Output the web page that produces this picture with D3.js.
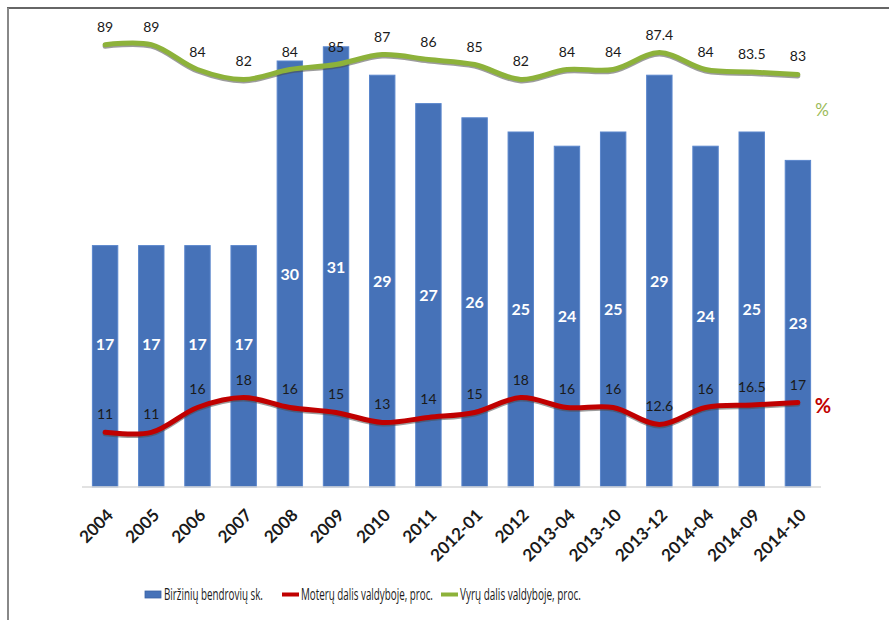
<!DOCTYPE html>
<html>
<head>
<meta charset="utf-8">
<script src="https://cdn.jsdelivr.net/npm/d3@7"></script>
<style>
  body { margin: 0; background: #fff; }
  svg { display: block; }
</style>
</head>
<body>
<div id="chart"></div>
<script>
// duomenys
const periods = ["2004", "2005", "2006", "2007", "2008", "2009", "2010", "2011",
  "2012-01", "2012", "2013-04", "2013-10", "2013-12", "2014-04", "2014-09", "2014-10"];
const companies = [17, 17, 17, 17, 30, 31, 29, 27, 26, 25, 24, 25, 29, 24, 25, 23];
const women = [11, 11, 16, 18, 16, 15, 13, 14, 15, 18, 16, 16, 12.6, 16, 16.5, 17];
const men = [89, 89, 84, 82, 84, 85, 87, 86, 85, 82, 84, 84, 87.4, 84, 83.5, 83];
const seriesNames = ["Biržinių bendrovių sk.", "Moterų dalis valdyboje, proc.", "Vyrų dalis valdyboje, proc."];

const width = 889, height = 620;
const baseY = 487;
const numFont = "Lato, 'Open Sans', sans-serif";

const svg = d3.select("#chart").append("svg")
  .attr("width", width).attr("height", height);

// rėmelis
svg.append("line").attr("x1", 7).attr("x2", width).attr("y1", 8).attr("y2", 8)
  .attr("stroke", "#333").attr("stroke-width", 1.5);
svg.append("line").attr("x1", 8).attr("x2", 8).attr("y1", 8).attr("y2", height)
  .attr("stroke", "#888").attr("stroke-width", 2);

const x = d3.scaleBand().domain(periods).range([82, 821])
  .paddingInner(0.45).paddingOuter(0.225);
const yBar = d3.scaleLinear().domain([0, 35]).range([baseY, -10]);
const yPct = d3.scaleLinear().domain([0, 100]).range([baseY, -10]);
const cx = d => x(d) + x.bandwidth() / 2;

// stulpeliai
svg.append("g").selectAll("rect").data(companies).join("rect")
  .attr("x", (d, i) => x(periods[i]))
  .attr("y", d => yBar(d))
  .attr("width", x.bandwidth())
  .attr("height", d => baseY - yBar(d))
  .attr("fill", "#4672b8")
  .attr("stroke", "#5a86cc").attr("stroke-width", 1);

// ašis
svg.append("line").attr("x1", 82).attr("x2", 821).attr("y1", baseY).attr("y2", baseY)
  .attr("stroke", "#d9d9d9").attr("stroke-width", 1.5);

svg.append("g").selectAll("text").data(periods).join("text")
  .attr("transform", d => `translate(${cx(d) + 5},${baseY + 25}) rotate(-45)`)
  .attr("text-anchor", "end")
  .attr("dy", "0.35em")
  .attr("font-family", numFont)
  .attr("font-weight", "bold")
  .attr("font-size", 17)
  .attr("fill", "#1a1a1a")
  .text(d => d);

// stulpelių reikšmės
svg.append("g").selectAll("text").data(companies).join("text")
  .attr("x", (d, i) => cx(periods[i]))
  .attr("y", d => Math.min((yBar(d) + baseY) / 2, baseY - 143))
  .attr("dy", "0.35em")
  .attr("text-anchor", "middle")
  .attr("font-family", numFont)
  .attr("font-weight", "bold")
  .attr("font-size", 16)
  .attr("fill", "#fff")
  .text(d => d);

// linijos
const line = d3.line()
  .x((d, i) => cx(periods[i]))
  .y(d => yPct(d))
  .curve(d3.curveCatmullRom.alpha(0.5));

function drawLine(values, color) {
  svg.append("path").datum(values)
    .attr("d", line).attr("fill", "none")
    .attr("stroke", "#4a4a4a").attr("stroke-opacity", 0.55)
    .attr("stroke-width", 5).attr("stroke-linecap", "round")
    .attr("transform", "translate(0,1.5)");
  svg.append("path").datum(values)
    .attr("d", line).attr("fill", "none")
    .attr("stroke", color)
    .attr("stroke-width", 5).attr("stroke-linecap", "round");
  svg.append("g").selectAll("text").data(values).join("text")
    .attr("x", (d, i) => cx(periods[i]))
    .attr("y", d => yPct(d) - 13)
    .attr("text-anchor", "middle")
    .attr("font-family", numFont)
    .attr("font-size", 14)
    .attr("fill", "#1a1a1a")
    .text(d => d);
}
drawLine(men, "#8db23a");
drawLine(women, "#c00000");

// % žymės
svg.append("text").attr("x", 822).attr("y", yPct(men[men.length - 1]) + 36)
  .attr("text-anchor", "middle").attr("dy", "0.35em")
  .attr("font-family", numFont).attr("font-size", 17).attr("fill", "#9bbb59")
  .text("%");
svg.append("text").attr("x", 823).attr("y", yPct(women[women.length - 1]) + 3)
  .attr("text-anchor", "middle").attr("dy", "0.35em")
  .attr("font-family", numFont).attr("font-size", 20).attr("font-weight", "bold")
  .attr("fill", "#c00000")
  .text("%");

// legenda (siauras šriftas imituojamas suspaudžiant tekstą horizontaliai)
const legendItems = [
  { x: 145, kind: "rect", color: "#4672b8", w: 99 },
  { x: 282, kind: "line", color: "#c00000", w: 132 },
  { x: 441, kind: "line", color: "#8db23a", w: 121 }
];
const lg = svg.append("g");
legendItems.forEach((it, i) => {
  if (it.kind === "rect") {
    lg.append("rect").attr("x", it.x).attr("y", 591).attr("width", 16).attr("height", 7)
      .attr("fill", it.color).attr("stroke", "#3b63a6").attr("stroke-width", 0.8);
  } else {
    lg.append("rect").attr("x", it.x).attr("y", 592.5).attr("width", 17).attr("height", 4)
      .attr("fill", it.color);
  }
  const t = lg.append("text").attr("x", 0).attr("y", 0)
    .attr("font-family", "'Open Sans', sans-serif").attr("font-size", 15.5).attr("fill", "#1a1a1a")
    .text(seriesNames[i]);
  const sx = it.w / t.node().getComputedTextLength();
  t.attr("transform", `translate(${it.x + 19},${600}) scale(${sx},1)`);
});
</script>
</body>
</html>
